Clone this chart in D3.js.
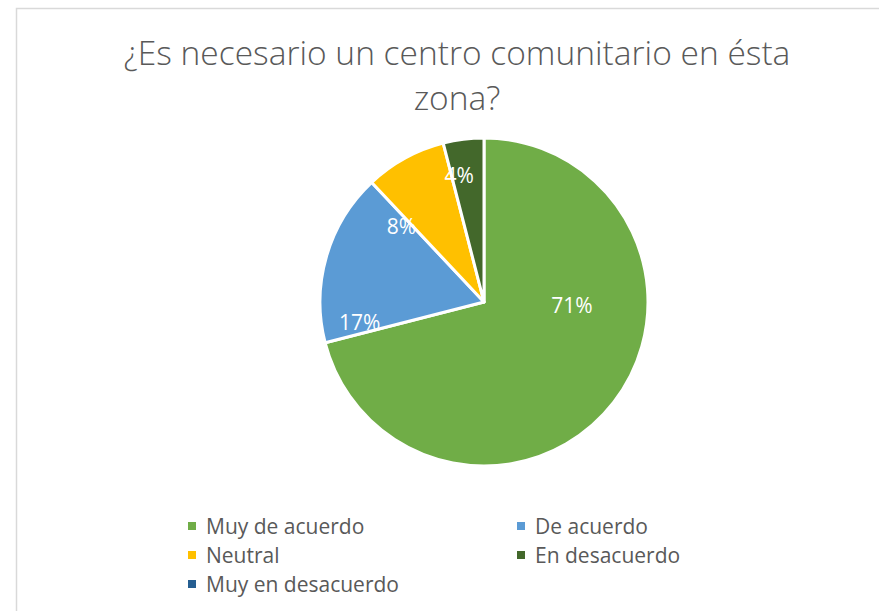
<!DOCTYPE html>
<html>
<head>
<meta charset="utf-8">
<script src="https://cdn.jsdelivr.net/npm/d3@7"></script>
<style>
  body { margin: 0; background: #fff; }
  text { font-family: "Open Sans", "DejaVu Sans", sans-serif; }
</style>
</head>
<body>
<div id="chart"></div>
<script>
// chart data
var categories = ["Muy de acuerdo", "De acuerdo", "Neutral", "En desacuerdo", "Muy en desacuerdo"];
var values = [71, 17, 8, 4, 0];
var colors = ["#70AD47", "#5B9BD5", "#FFC000", "#43682B", "#255E91"];
var titleLines = ["¿Es necesario un centro comunitario en ésta", "zona?"];

var svgWidth = 879;
var svgHeight = 611;

var svg = d3.select("#chart")
  .append("svg")
  .attr("width", svgWidth)
  .attr("height", svgHeight);

// chart frame (runs off the right and bottom edge)
svg.append("rect")
  .attr("x", 16.5)
  .attr("y", 8.5)
  .attr("width", 900)
  .attr("height", 700)
  .attr("fill", "#fff")
  .attr("stroke", "#d9d9d9")
  .attr("stroke-width", 1.5);

// title
svg.append("text")
  .attr("text-anchor", "middle")
  .attr("fill", "#595959")
  .attr("font-size", 33.5)
  .attr("font-weight", 300)
  .selectAll("tspan")
  .data(titleLines)
  .enter()
  .append("tspan")
  .attr("x", 457)
  .attr("y", (d, i) => 65 + i * 45)
  .text(d => d);

// pie
var cx = 484, cy = 302, radius = 164;

var pie = d3.pie().sort(null).value(d => d.value);
var data = categories.map((c, i) => ({ name: c, value: values[i], color: colors[i] }));
var arcs = pie(data);

var arc = d3.arc().innerRadius(0).outerRadius(radius);

var pieGroup = svg.append("g")
  .attr("transform", `translate(${cx}, ${cy})`);

pieGroup.selectAll("path")
  .data(arcs.filter(d => d.value > 0))
  .enter()
  .append("path")
  .attr("d", arc)
  .attr("fill", d => d.data.color)
  .attr("stroke", "#fff")
  .attr("stroke-width", 3)
  .attr("stroke-linejoin", "round");

// data labels: position along each slice (fraction of its angle) and distance from centre
var labelLayout = [
  { frac: 0.36, r: 88 },
  { frac: 0.08, r: 126 },
  { frac: -0.15, r: 112 },
  { frac: 0.23, r: 129 }
];
var pct = d3.format(".0%");
var total = d3.sum(values);

pieGroup.selectAll(".label")
  .data(arcs.filter(d => d.value > 0))
  .enter()
  .append("text")
  .attr("class", "label")
  .attr("text-anchor", "middle")
  .attr("dy", "0.36em")
  .attr("fill", "#fff")
  .attr("font-size", 21)
  .attr("transform", (d, i) => {
    var lay = labelLayout[i];
    var a = d.startAngle + (d.endAngle - d.startAngle) * lay.frac;
    var p = d3.arc().innerRadius(lay.r).outerRadius(lay.r).centroid({ startAngle: a, endAngle: a });
    return `translate(${p[0]}, ${p[1]})`;
  })
  .text(d => pct(d.value / total));

// legend, two columns
var legend = svg.append("g");
var legendItems = legend.selectAll("g")
  .data(data)
  .enter()
  .append("g")
  .attr("transform", (d, i) => `translate(${i % 2 === 0 ? 188 : 517}, ${534 + Math.floor(i / 2) * 29})`);

legendItems.append("rect")
  .attr("x", 0)
  .attr("y", -12)
  .attr("width", 8)
  .attr("height", 8)
  .attr("fill", d => d.color);

legendItems.append("text")
  .attr("x", 18)
  .attr("y", 0)
  .attr("fill", "#595959")
  .attr("font-size", 21)
  .text(d => d.name);
</script>
</body>
</html>
